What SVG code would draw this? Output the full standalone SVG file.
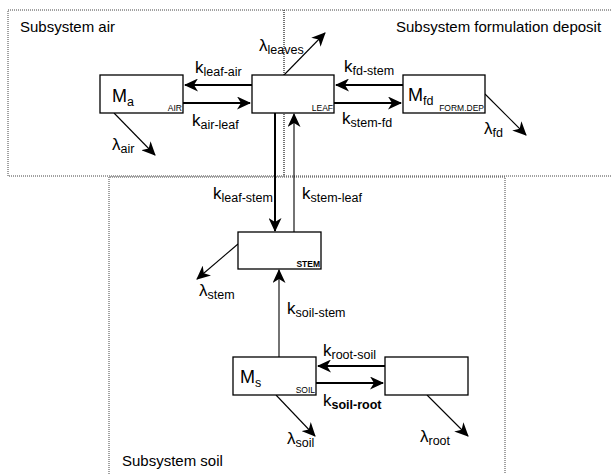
<svg xmlns="http://www.w3.org/2000/svg" width="611" height="474" viewBox="0 0 611 474">
<defs>
<marker id="ah" markerUnits="userSpaceOnUse" markerWidth="15" markerHeight="13" viewBox="0 0 15 13" refX="13" refY="6.5" orient="auto">
<path d="M0,0 L14,6.5 L0,13 L4,6.5 Z" fill="#000"/>
</marker>
</defs>
<style>
.sub{fill:none;stroke:#444;stroke-width:1;stroke-dasharray:1 1}
.box{fill:#fff;stroke:#000;stroke-width:1.3}
.t{font-family:"Liberation Sans",Arial,sans-serif;fill:#000}
.title{font-size:15px}
.big{font-size:17px}
.m{font-size:18px}
.s{font-size:12.5px}
.tiny{font-size:8.5px}
.thick{stroke:#000;stroke-width:2;fill:none}
.thin{stroke:#000;stroke-width:1.1;fill:none}
</style>
<g id="subsystems">
<rect class="sub" x="8" y="10" width="276" height="166"/>
<path class="sub" d="M284,10 H611 M284,10 V176 M284,176 H611"/>
<path class="sub" d="M109,474 V177 H505 V474"/>
<text class="t title" x="20" y="32">Subsystem air</text>
<text class="t title" x="396" y="32">Subsystem formulation deposit</text>
<text class="t title" x="122" y="466">Subsystem soil</text>
</g>
<g id="connectors">
<line class="thick" x1="252" y1="85" x2="185" y2="85" marker-end="url(#ah)"/>
<line class="thick" x1="183" y1="103" x2="250" y2="103" marker-end="url(#ah)"/>
<line class="thick" x1="403" y1="85" x2="336" y2="85" marker-end="url(#ah)"/>
<line class="thick" x1="334" y1="103" x2="401" y2="103" marker-end="url(#ah)"/>
<line class="thick" x1="275" y1="113" x2="275" y2="231" marker-end="url(#ah)"/>
<line class="thin" x1="294" y1="232" x2="294" y2="114" marker-end="url(#ah)"/>
<line class="thin" x1="279" y1="357" x2="279" y2="270" marker-end="url(#ah)"/>
<line class="thick" x1="385" y1="366" x2="318" y2="366" marker-end="url(#ah)"/>
<line class="thick" x1="316" y1="383" x2="383" y2="383" marker-end="url(#ah)"/>
<line class="thin" x1="114" y1="113" x2="155" y2="155" marker-end="url(#ah)"/>
<line class="thin" x1="284" y1="75" x2="325" y2="33" marker-end="url(#ah)"/>
<line class="thin" x1="485" y1="94" x2="526" y2="135" marker-end="url(#ah)"/>
<line class="thin" x1="238" y1="244" x2="197" y2="279" marker-end="url(#ah)"/>
<line class="thin" x1="276" y1="395" x2="315" y2="436" marker-end="url(#ah)"/>
<line class="thin" x1="427" y1="395" x2="468" y2="436" marker-end="url(#ah)"/>
</g>
<g id="node-air">
<rect class="box" x="100" y="75" width="83" height="38"/>
<text class="t m" x="112" y="102">M<tspan class="s" dy="4">a</tspan></text>
<text class="t tiny" x="182" y="111" text-anchor="end">AIR</text>
</g>
<g id="node-leaf">
<rect class="box" x="252" y="75" width="82" height="38"/>
<text class="t tiny" x="333" y="111" text-anchor="end">LEAF</text>
</g>
<g id="node-fd">
<rect class="box" x="403" y="75" width="82" height="38"/>
<text class="t m" x="408" y="101">M<tspan class="s" dy="4">fd</tspan></text>
<text class="t tiny" x="484" y="111" text-anchor="end">FORM.DEP</text>
</g>
<g id="node-stem">
<rect class="box" x="238" y="232" width="83" height="37"/>
<text class="t tiny" x="320" y="267" text-anchor="end" font-weight="bold">STEM</text>
</g>
<g id="node-soil">
<rect class="box" x="233" y="357" width="83" height="38"/>
<text class="t m" x="240" y="383">M<tspan class="s" dy="4">s</tspan></text>
<text class="t tiny" x="315" y="393" text-anchor="end">SOIL</text>
</g>
<g id="node-root">
<rect class="box" x="385" y="357" width="83" height="38"/>
</g>
<g id="labels">
<text class="t big" x="195" y="73">k<tspan class="s" dy="3">leaf-air</tspan></text>
<text class="t big" x="192" y="126">k<tspan class="s" dy="3">air-leaf</tspan></text>
<text class="t big" x="344" y="72">k<tspan class="s" dy="3">fd-stem</tspan></text>
<text class="t big" x="342" y="124">k<tspan class="s" dy="3">stem-fd</tspan></text>
<text class="t big" x="259" y="51">λ<tspan class="s" dy="3">leaves</tspan></text>
<text class="t big" x="112" y="150">λ<tspan class="s" dy="3">air</tspan></text>
<text class="t big" x="484" y="134">λ<tspan class="s" dy="3">fd</tspan></text>
<text class="t big" x="213" y="199">k<tspan class="s" dy="3">leaf-stem</tspan></text>
<text class="t big" x="302" y="199">k<tspan class="s" dy="3">stem-leaf</tspan></text>
<text class="t big" x="199" y="296">λ<tspan class="s" dy="3">stem</tspan></text>
<text class="t big" x="287" y="314">k<tspan class="s" dy="3">soil-stem</tspan></text>
<text class="t big" x="323" y="356">k<tspan class="s" dy="3">root-soil</tspan></text>
<text class="t big" x="323" y="406">k<tspan class="s" dy="3" font-weight="bold">soil-root</tspan></text>
<text class="t big" x="287" y="444">λ<tspan class="s" dy="3">soil</tspan></text>
<text class="t big" x="420" y="442">λ<tspan class="s" dy="3">root</tspan></text>
</g>
</svg>
